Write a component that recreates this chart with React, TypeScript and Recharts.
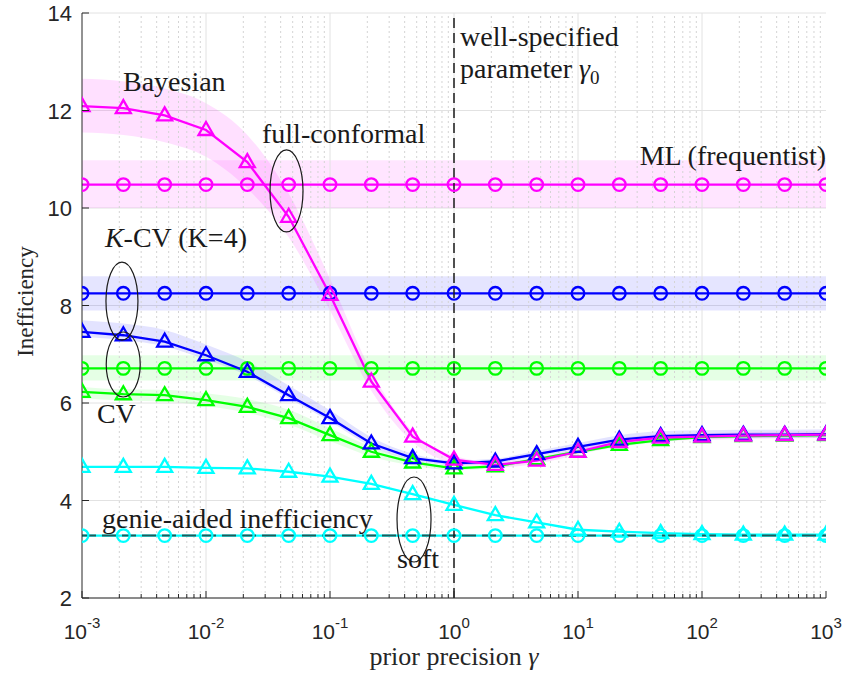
import React from 'react';
import { ComposedChart, Line, Area, XAxis, YAxis, CartesianGrid, ReferenceLine, ReferenceDot } from 'recharts';

// prior precision values (3 per decade)
const gammaValues = [0.001, 0.002154, 0.004642, 0.01, 0.02154, 0.04642, 0.1, 0.2154, 0.4642, 1, 2.154, 4.642, 10, 21.54, 46.42, 100, 215.4, 464.2, 1000];

// Bayesian (magenta triangles)
const bayesian = [12.09, 12.05, 11.9, 11.6, 10.94, 9.82, 8.22, 6.44, 5.31, 4.84, 4.73, 4.82, 5.0, 5.2, 5.29, 5.31, 5.33, 5.34, 5.35];
const bayesianHi = [12.65, 12.6, 12.45, 12.15, 11.5, 10.3, 8.55, 6.65, 5.42, 4.92, 4.79, 4.88, 5.06, 5.27, 5.36, 5.38, 5.4, 5.41, 5.42];
const bayesianLo = [11.55, 11.5, 11.35, 11.05, 10.4, 9.4, 7.9, 6.25, 5.2, 4.76, 4.67, 4.76, 4.94, 5.13, 5.22, 5.24, 5.26, 5.27, 5.28];

// K-CV (blue triangles)
const kcvSoft = [7.46, 7.39, 7.26, 6.98, 6.64, 6.16, 5.69, 5.17, 4.87, 4.76, 4.8, 4.95, 5.1, 5.25, 5.32, 5.34, 5.35, 5.35, 5.36];
const kcvSoftHi = [7.7, 7.63, 7.5, 7.2, 6.85, 6.36, 5.85, 5.3, 4.96, 4.82, 4.86, 5.02, 5.18, 5.34, 5.42, 5.44, 5.45, 5.45, 5.46];
const kcvSoftLo = [7.36, 7.29, 7.16, 6.89, 6.56, 6.09, 5.62, 5.11, 4.83, 4.72, 4.76, 4.9, 5.04, 5.18, 5.25, 5.27, 5.28, 5.28, 5.29];

// CV (green triangles)
const cvSoft = [6.23, 6.18, 6.16, 6.06, 5.92, 5.69, 5.34, 5.0, 4.78, 4.66, 4.7, 4.85, 5.0, 5.14, 5.24, 5.3, 5.32, 5.33, 5.34];
const cvSoftHi = [6.33, 6.28, 6.27, 6.2, 6.08, 5.86, 5.48, 5.1, 4.84, 4.7, 4.74, 4.89, 5.04, 5.18, 5.28, 5.34, 5.36, 5.37, 5.38];
const cvSoftLo = [6.1, 6.05, 6.03, 5.94, 5.8, 5.56, 5.22, 4.9, 4.72, 4.62, 4.66, 4.81, 4.96, 5.1, 5.2, 5.26, 5.28, 5.29, 5.3];

// soft / genie-aided (cyan triangles)
const genieSoft = [4.69, 4.69, 4.69, 4.67, 4.66, 4.59, 4.49, 4.34, 4.13, 3.91, 3.7, 3.55, 3.4, 3.36, 3.33, 3.31, 3.3, 3.3, 3.3];

// flat (circle) series: full-conformal / ML etc.
const mlLevel = 10.48, mlLo = 10.0, mlHi = 10.98;
const kcvLevel = 8.25, kcvLo = 7.9, kcvHi = 8.6;
const cvLevel = 6.71, cvLo = 6.46, cvHi = 6.98;
const genieLevel = 3.28;

const yTicks = [2, 4, 6, 8, 10, 12, 14];
const majorTicks = [0.001, 0.01, 0.1, 1, 10, 100, 1000];
const minorMult = [2, 3, 4, 5, 6, 7, 8, 9];
const minorTicks = majorTicks.slice(0, -1).flatMap((m) => minorMult.map((k) => +(m * k).toPrecision(3)));
const allXTicks = [...majorTicks, ...minorTicks].sort((a, b) => a - b);

const data = gammaValues.map((g, i) => ({
  g,
  bayes: bayesian[i],
  bayesBand: [bayesianLo[i], bayesianHi[i]],
  kcvS: kcvSoft[i],
  kcvSBand: [kcvSoftLo[i], kcvSoftHi[i]],
  cvS: cvSoft[i],
  cvSBand: [cvSoftLo[i], cvSoftHi[i]],
  soft: genieSoft[i],
  ml: mlLevel,
  mlBand: [mlLo, mlHi],
  kcv: kcvLevel,
  kcvBand: [kcvLo, kcvHi],
  cv: cvLevel,
  cvBand: [cvLo, cvHi],
  genie: genieLevel,
  genieLine: genieLevel,
}));

const MAG = '#ff00ff', BLUE = '#0000ff', GREEN = '#00ff00', CYAN = '#00ffff';
const AX = '#262626';
const SERIF = "'Liberation Serif', 'DejaVu Serif', 'Times New Roman', Times, serif";
const SANS = "'Liberation Sans', Arial, Helvetica, sans-serif";
const LW = 2.3;

const triDot = (color: string) => (p: any) => {
  const { cx, cy, index } = p;
  if (cx == null || cy == null) return <g key={index} />;
  return (
    <polygon key={index} points={`${cx},${cy - 8} ${cx + 7.5},${cy + 5} ${cx - 7.5},${cy + 5}`} fill="none" stroke={color} strokeWidth={LW} />
  );
};
const circDot = (color: string) => (p: any) => {
  const { cx, cy, index } = p;
  if (cx == null || cy == null) return <g key={index} />;
  return <circle key={index} cx={cx} cy={cy} r={6.3} fill="none" stroke={color} strokeWidth={LW} />;
};

const isMajor = (v: number) => Math.abs(Math.log10(v) - Math.round(Math.log10(v))) < 1e-6;

const BottomTick = (p: any) => {
  const { x, y, payload } = p;
  const v = payload.value;
  const maj = isMajor(v);
  const exp = Math.round(Math.log10(v));
  return (
    <g>
      <line x1={x} x2={x} y1={y} y2={y - (maj ? 7 : 4)} stroke={AX} strokeWidth={1} />
      {maj && (
        <text x={x} y={y + 41} textAnchor="middle" fontFamily={SANS} fontSize={21} fill={AX}>
          <tspan>10</tspan>
          <tspan dy={-11} fontSize={15}>{String(exp)}</tspan>
        </text>
      )}
    </g>
  );
};
const TopTick = (p: any) => {
  const { x, y, payload } = p;
  const maj = isMajor(payload.value);
  return <line x1={x} x2={x} y1={y} y2={y + (maj ? 7 : 4)} stroke={AX} strokeWidth={1} />;
};
const LeftTick = (p: any) => {
  const { x, y, payload } = p;
  return (
    <g>
      <line x1={x} x2={x + 7} y1={y} y2={y} stroke={AX} strokeWidth={1} />
      <text x={x - 10} y={y} dy="0.38em" textAnchor="end" fontFamily={SANS} fontSize={22} fill={AX}>
        {payload.value}
      </text>
    </g>
  );
};
const RightTick = (p: any) => {
  const { x, y } = p;
  return <line x1={x} x2={x - 7} y1={y} y2={y} stroke={AX} strokeWidth={1} />;
};

const annText = (content: React.ReactNode, anchor: string = 'start') => (p: any) => (
  <text x={p.cx} y={p.cy} textAnchor={anchor} fontFamily={SERIF} fontSize={28} fill="#1a1a1a">
    {content}
  </text>
);
const ellipse = (rx: number, ry: number) => (p: any) => (
  <ellipse cx={p.cx} cy={p.cy} rx={rx} ry={ry} fill="none" stroke="#1a1a1a" strokeWidth={1.2} />
);

export default function App() {
  return (
    <div style={{ position: 'absolute', left: 0, top: 0, width: 844, height: 675, background: '#fff', fontFamily: SERIF }}>
      <ComposedChart width={844} height={675} data={data} margin={{ top: 13, right: 18, bottom: 37, left: 22 }}>
        <CartesianGrid vertical={false} stroke="#e2e2e2" />
        {minorTicks.map((t) => (
          <ReferenceLine key={'mn' + t} x={t} stroke="#d4d4d4" strokeDasharray="2 3" strokeWidth={1} />
        ))}
        {majorTicks.slice(1, -1).map((t) => (
          <ReferenceLine key={'mj' + t} x={t} stroke="#e2e2e2" strokeWidth={1} />
        ))}
        <XAxis
          dataKey="g"
          type="number"
          scale="log"
          domain={[0.001, 1000]}
          allowDataOverflow
          ticks={allXTicks}
          interval={0}
          tickSize={0}
          tickMargin={0}
          tickLine={false}
          tick={<BottomTick />}
          height={40}
          stroke={AX}
          label={(props: any) => {
            const vb = props.viewBox || {};
            return (
              <text x={vb.x + vb.width / 2} y={vb.y + 67} textAnchor="middle" fontFamily={SERIF} fontSize={26} fill={AX}>
                prior precision <tspan fontStyle="italic">γ</tspan>
              </text>
            );
          }}
        />
        <XAxis
          xAxisId="top"
          orientation="top"
          dataKey="g"
          type="number"
          scale="log"
          domain={[0.001, 1000]}
          allowDataOverflow
          ticks={allXTicks}
          interval={0}
          tickSize={0}
          tickMargin={0}
          tickLine={false}
          tick={<TopTick />}
          height={0}
          stroke={AX}
        />
        <YAxis
          type="number"
          domain={[2, 14]}
          ticks={yTicks}
          interval={0}
          tickSize={0}
          tickMargin={0}
          tickLine={false}
          tick={<LeftTick />}
          width={60}
          stroke={AX}
          allowDataOverflow
          label={(props: any) => {
            const vb = props.viewBox || {};
            const cx = vb.x + 11;
            const cy = vb.y + vb.height / 2 - 4;
            return (
              <text x={cx} y={cy} transform={`rotate(-90 ${cx} ${cy})`} textAnchor="middle" fontFamily={SERIF} fontSize={23} fill={AX}>
                Inefficiency
              </text>
            );
          }}
        />
        <YAxis
          yAxisId="right"
          orientation="right"
          type="number"
          domain={[2, 14]}
          ticks={yTicks}
          interval={0}
          tickSize={0}
          tickMargin={0}
          tickLine={false}
          tick={<RightTick />}
          width={0}
          stroke={AX}
          allowDataOverflow
        />

        {/* uncertainty bands */}
        <Area dataKey="mlBand" type="linear" stroke="none" fill={MAG} fillOpacity={0.1} isAnimationActive={false} activeDot={false} />
        <Area dataKey="kcvBand" type="linear" stroke="none" fill={BLUE} fillOpacity={0.1} isAnimationActive={false} activeDot={false} />
        <Area dataKey="cvBand" type="linear" stroke="none" fill={GREEN} fillOpacity={0.1} isAnimationActive={false} activeDot={false} />
        <Area dataKey="bayesBand" type="monotone" stroke="none" fill={MAG} fillOpacity={0.12} isAnimationActive={false} activeDot={false} />
        <Area dataKey="kcvSBand" type="monotone" stroke="none" fill={BLUE} fillOpacity={0.11} isAnimationActive={false} activeDot={false} />
        <Area dataKey="cvSBand" type="monotone" stroke="none" fill={GREEN} fillOpacity={0.1} isAnimationActive={false} activeDot={false} />

        {/* series */}
        <Line dataKey="genie" type="linear" stroke={CYAN} strokeWidth={LW} dot={circDot(CYAN)} activeDot={false} isAnimationActive={false} />
        <Line dataKey="soft" type="linear" stroke={CYAN} strokeWidth={LW} dot={triDot(CYAN)} activeDot={false} isAnimationActive={false} />
        <Line dataKey="cv" type="linear" stroke={GREEN} strokeWidth={LW} dot={circDot(GREEN)} activeDot={false} isAnimationActive={false} />
        <Line dataKey="cvS" type="linear" stroke={GREEN} strokeWidth={LW} dot={triDot(GREEN)} activeDot={false} isAnimationActive={false} />
        <Line dataKey="kcv" type="linear" stroke={BLUE} strokeWidth={LW} dot={circDot(BLUE)} activeDot={false} isAnimationActive={false} />
        <Line dataKey="kcvS" type="linear" stroke={BLUE} strokeWidth={LW} dot={triDot(BLUE)} activeDot={false} isAnimationActive={false} />
        <Line dataKey="ml" type="linear" stroke={MAG} strokeWidth={LW} dot={circDot(MAG)} activeDot={false} isAnimationActive={false} />
        <Line dataKey="bayes" type="linear" stroke={MAG} strokeWidth={LW} dot={triDot(MAG)} activeDot={false} isAnimationActive={false} />
        <Line dataKey="genieLine" type="linear" stroke="#1f5a5a" strokeWidth={2} strokeDasharray="14 6" dot={false} activeDot={false} isAnimationActive={false} />

        <ReferenceLine x={1} stroke="#1a1a1a" strokeWidth={1.5} strokeDasharray="10 5" />

        {/* ellipses */}
        <ReferenceDot x={0.0446} y={10.35} r={0} shape={ellipse(16.5, 41)} />
        <ReferenceDot x={0.0021} y={8.09} r={0} shape={ellipse(16, 39)} />
        <ReferenceDot x={0.00215} y={6.79} r={0} shape={ellipse(17, 32.5)} />
        <ReferenceDot x={0.476} y={3.61} r={0} shape={ellipse(17, 42.5)} />

        {/* annotations */}
        <ReferenceDot x={0.00214} y={12.4} r={0} shape={annText('Bayesian')} />
        <ReferenceDot x={0.0283} y={11.33} r={0} shape={annText('full-conformal')} />
        <ReferenceDot x={1000} y={10.88} r={0} shape={annText('ML (frequentist)', 'end')} />
        <ReferenceDot x={0.00153} y={9.2} r={0} shape={annText(<><tspan fontStyle="italic">K</tspan>-CV (K=4)</>)} />
        <ReferenceDot x={0.00132} y={5.59} r={0} shape={annText('CV')} />
        <ReferenceDot x={0.00145} y={3.44} r={0} shape={annText('genie-aided inefficiency')} />
        <ReferenceDot x={0.347} y={2.62} r={0} shape={annText('soft')} />
        <ReferenceDot x={1.12} y={13.32} r={0} shape={annText('well-specified')} />
        <ReferenceDot x={1.12} y={12.67} r={0} shape={annText(<>parameter <tspan fontStyle="italic">γ</tspan><tspan dy={6} fontSize={19}>0</tspan></>)} />
      </ComposedChart>
    </div>
  );
}
